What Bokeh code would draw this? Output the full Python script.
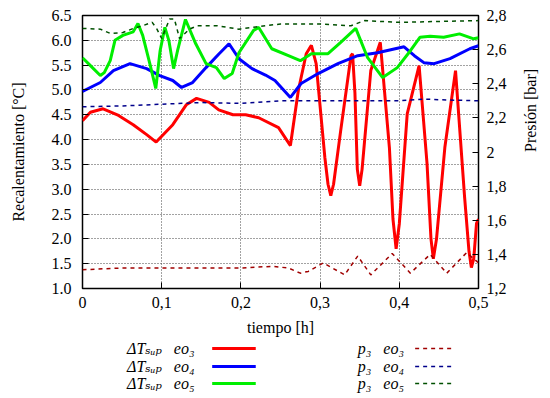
import math
from bokeh.plotting import figure
from bokeh.layouts import column
from bokeh.models import Range1d, LinearAxis, FixedTicker
from bokeh.core.properties import value
from bokeh.embed import file_html
from bokeh.resources import INLINE

# ---- data ----
t_dT_eo3 = [0, 0.01, 0.026, 0.044, 0.064, 0.081, 0.093, 0.114, 0.131, 0.144, 0.16, 0.172, 0.19, 0.206,
            0.2225, 0.2475, 0.2625, 0.2725, 0.2825, 0.289, 0.295, 0.306, 0.31, 0.3135, 0.317, 0.326, 0.339,
            0.341, 0.344, 0.347, 0.35, 0.353, 0.364, 0.376, 0.3875, 0.392, 0.396, 0.4, 0.41, 0.425, 0.435,
            0.44, 0.443, 0.447, 0.4575, 0.471, 0.4825, 0.488, 0.491, 0.494, 0.4975, 0.5]
dT_eo3 = [4.38, 4.55, 4.62, 4.5, 4.3, 4.1, 3.95, 4.3, 4.7, 4.83, 4.75, 4.6, 4.5, 4.5,
          4.44, 4.24, 3.88, 4.99, 5.73, 5.9, 5.53, 3.64, 3.1, 2.87, 3.1, 4.18, 5.69,
          5.73, 4.93, 3.4, 3.07, 3.4, 5.39, 5.96, 3.84, 2.4, 1.8, 2.3, 4.52, 5.49, 3.52,
          2.0, 1.6, 2.0, 3.84, 5.39, 2.83, 1.75, 1.42, 1.6, 2.31, 2.4]

t_dT_eo4 = [0, 0.0225, 0.039, 0.06, 0.081, 0.0975, 0.114, 0.125, 0.139, 0.156, 0.1725, 0.185, 0.1975,
            0.214, 0.231, 0.243, 0.2625, 0.276, 0.2975, 0.3225, 0.3475, 0.3725, 0.406, 0.419, 0.431,
            0.444, 0.464, 0.489, 0.5]
dT_eo4 = [4.97, 5.15, 5.39, 5.53, 5.43, 5.29, 5.19, 5.05, 5.15, 5.45, 5.73, 5.93, 5.63,
          5.43, 5.3, 5.19, 4.85, 5.13, 5.33, 5.53, 5.69, 5.75, 5.87, 5.69, 5.55,
          5.53, 5.63, 5.83, 5.89]

t_dT_eo5 = [0, 0.01, 0.0225, 0.0275, 0.035, 0.041, 0.051, 0.064, 0.07, 0.076, 0.085, 0.0925, 0.098,
            0.104, 0.109, 0.115, 0.12, 0.13, 0.143, 0.156, 0.169, 0.179, 0.189, 0.1975, 0.216, 0.2225,
            0.239, 0.26, 0.275, 0.289, 0.31, 0.326, 0.345, 0.36, 0.379, 0.3975, 0.414, 0.426, 0.439,
            0.456, 0.476, 0.494, 0.5]
dT_eo5 = [5.65, 5.49, 5.29, 5.35, 5.59, 6.0, 6.1, 6.17, 6.34, 6.1, 5.53, 5.03, 5.79,
          6.26, 6.0, 5.43, 5.79, 6.42, 5.93, 5.53, 5.45, 5.23, 5.33, 5.75, 6.2, 6.26,
          5.83, 5.69, 5.59, 5.73, 5.73, 5.96, 6.24, 5.65, 5.25, 5.45, 5.79, 6.06, 6.08,
          6.06, 6.13, 6.03, 6.05]

t_p3_eo3 = [0, 0.05, 0.1, 0.15, 0.2, 0.24, 0.26, 0.275, 0.285, 0.304, 0.331, 0.3475, 0.364, 0.391,
            0.414, 0.439, 0.46, 0.485, 0.5]
p3_eo3 = [1.31, 1.32, 1.32, 1.32, 1.32, 1.33, 1.32, 1.29, 1.30, 1.35, 1.28, 1.39, 1.28, 1.405,
          1.29, 1.40, 1.29, 1.41, 1.35]

t_p3_eo4 = [0, 0.05, 0.1, 0.15, 0.2, 0.25, 0.3, 0.35, 0.4, 0.43, 0.46, 0.5]
p3_eo4 = [2.265, 2.27, 2.28, 2.29, 2.285, 2.30, 2.30, 2.30, 2.30, 2.31, 2.305, 2.30]

t_p3_eo5 = [0, 0.0225, 0.035, 0.051, 0.064, 0.076, 0.088, 0.094, 0.1, 0.11, 0.116, 0.1225, 0.135,
            0.145, 0.17, 0.1975, 0.231, 0.25, 0.3, 0.339, 0.356, 0.4, 0.45, 0.5]
p3_eo5 = [2.724, 2.72, 2.695, 2.70, 2.724, 2.74, 2.76, 2.72, 2.665, 2.78, 2.78, 2.665, 2.72,
          2.74, 2.74, 2.72, 2.74, 2.75, 2.75, 2.74, 2.77, 2.76, 2.765, 2.77]

x_ticks = [0, 0.1, 0.2, 0.3, 0.4, 0.5]
x_tick_labels = ["0", "0,1", "0,2", "0,3", "0,4", "0,5"]
left_ticks = [1.0, 1.5, 2.0, 2.5, 3.0, 3.5, 4.0, 4.5, 5.0, 5.5, 6.0, 6.5]
right_ticks = [1.2, 1.4, 1.6, 1.8, 2.0, 2.2, 2.4, 2.6, 2.8]
right_tick_labels = ["1,2", "1,4", "1,6", "1,8", "2", "2,2", "2,4", "2,6", "2,8"]

labels = ["ΔTₛᵤₚ\u00a0\u00a0\u00a0eo₃", "ΔTₛᵤₚ\u00a0\u00a0\u00a0eo₄", "ΔTₛᵤₚ\u00a0\u00a0\u00a0eo₅",
          "p₃\u00a0\u00a0\u00a0eo₃", "p₃\u00a0\u00a0\u00a0eo₄", "p₃\u00a0\u00a0\u00a0eo₅"]

FONT = "'Liberation Serif', 'DejaVu Serif', serif"

styles = [
    dict(line_color="#ff0000", line_width=3),
    dict(line_color="#0000ff", line_width=3),
    dict(line_color="#00ee00", line_width=3),
    dict(line_color="#a00000", line_width=1.5, line_dash="4 4"),
    dict(line_color="#00008b", line_width=1.5, line_dash="4 4"),
    dict(line_color="#005000", line_width=1.5, line_dash="4 4"),
]

p = figure(width=550, height=339, output_backend="svg", toolbar_location=None,
           x_range=Range1d(0, 0.5), y_range=Range1d(1.0, 6.5),
           min_border_left=82, min_border_right=68, min_border_top=15, min_border_bottom=51,
           background_fill_color="white", border_fill_color="white")
p.extra_y_ranges = {"p": Range1d(1.2, 2.8)}

p.outline_line_color = "black"
p.outline_line_width = 1.5

for g in (p.xgrid, p.ygrid):
    g.grid_line_color = "#444444"
    g.grid_line_dash = "1 2"
    g.grid_line_width = 1

p.line(t_dT_eo3, dT_eo3, **styles[0])
p.line(t_dT_eo4, dT_eo4, **styles[1])
p.line(t_dT_eo5, dT_eo5, **styles[2])
p.line(t_p3_eo3, p3_eo3, y_range_name="p", **styles[3])
p.line(t_p3_eo4, p3_eo4, y_range_name="p", **styles[4])
p.line(t_p3_eo5, p3_eo5, y_range_name="p", **styles[5])

p.xaxis.ticker = FixedTicker(ticks=x_ticks)
p.xaxis.major_label_overrides = dict(zip(x_ticks, x_tick_labels))
p.xaxis.axis_label = "tiempo [h]"
p.yaxis.ticker = FixedTicker(ticks=left_ticks)
p.yaxis.major_label_overrides = {v: f"{v:.1f}" for v in left_ticks}
p.yaxis.axis_label = "Recalentamiento [°C]"

ax_r = LinearAxis(y_range_name="p", ticker=FixedTicker(ticks=right_ticks),
                  major_label_overrides=dict(zip(right_ticks, right_tick_labels)),
                  axis_label="Presión [bar]")
ax_r.axis_label_orientation = math.pi / 2
p.add_layout(ax_r, "right")

for ax in (p.xaxis[0], p.yaxis[0], ax_r):
    ax.axis_line_color = None
    ax.major_tick_in = 6
    ax.major_tick_out = 0
    ax.major_tick_line_color = "black"
    ax.minor_tick_line_color = None
    ax.major_label_text_font = FONT
    ax.major_label_text_font_size = "16px"
    ax.major_label_text_color = "black"
    ax.axis_label_text_font = FONT
    ax.axis_label_text_font_size = "16px"
    ax.axis_label_text_font_style = "normal"
    ax.axis_label_text_color = "black"

p.xaxis.major_label_standoff = 8
p.xaxis.axis_label_standoff = 8
p.yaxis.major_label_standoff = 11
p.yaxis.axis_label_standoff = 22
ax_r.major_label_standoff = 8
ax_r.axis_label_standoff = 21

# ---- legend drawn on its own small canvas below the chart ----
# (its frame is aligned with the chart frame by the column layout: page x 82..482)
LG_H = 59
lg = figure(width=550, height=LG_H, output_backend="svg", toolbar_location=None,
            x_range=Range1d(82, 482), y_range=Range1d(0, LG_H), x_axis_type=None, y_axis_type=None,
            min_border=0, min_border_left=82, min_border_right=68, min_border_top=0, min_border_bottom=0,
            outline_line_color=None, background_fill_color="white", border_fill_color="white")
lg.xgrid.visible = False
lg.ygrid.visible = False

row_y = [LG_H - 9, LG_H - 27, LG_H - 44]
col_text_x = [127, 360]
col_line_x = [(213, 257), (418, 457)]
for i in range(6):
    c, r = divmod(i, 3)
    lg.text(x=[col_text_x[c]], y=[row_y[r]], text=[labels[i]], text_font=value(FONT),
            text_font_size="16px", text_font_style="italic", text_color="black",
            text_align="left", text_baseline="middle")
    x0, x1 = col_line_x[c]
    lg.line([x0, x1], [row_y[r], row_y[r]], **styles[i])

layout = column(p, lg, spacing=0)
open("out.html", "w").write(file_html(layout, INLINE))
